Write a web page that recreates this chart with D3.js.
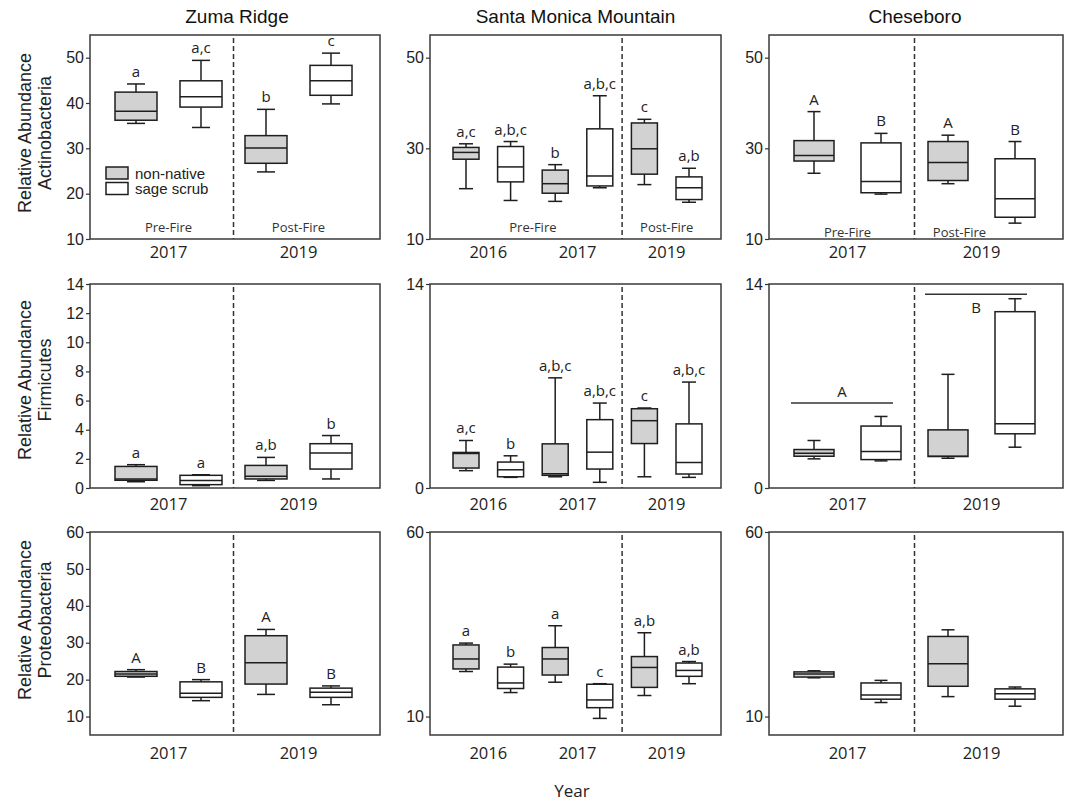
<!DOCTYPE html>
<html>
<head>
<meta charset="utf-8">
<script src="https://cdn.jsdelivr.net/npm/d3@7"></script>
<style>
  body { margin: 0; background: #fff; }
  svg { display: block; }
</style>
</head>
<body>
<svg id="chart" width="1068" height="801"></svg>
<script>
// categories
const sites = ["Zuma Ridge", "Santa Monica Mountain", "Cheseboro"];
const phyla = ["Actinobacteria", "Firmicutes", "Proteobacteria"];
const habitats = ["non-native", "sage scrub"];
const zumaYears = ["2017", "2019"];
const smYears = ["2016", "2017", "2019"];
const chesYears = ["2017", "2019"];
const postFireYears = ["2019"];

// box stats: [min, q1, median, q3, max], order = year x habitat
const zumaActino = [[35.5, 36.2, 38.2, 42.4, 44.2], [34.6, 39.1, 41.4, 44.9, 49.4], [24.8, 26.7, 30.1, 32.8, 38.6], [39.8, 41.7, 44.9, 48.3, 51.0]];
const smActino = [[21.1, 27.6, 29.1, 30.2, 31.0], [18.5, 22.6, 25.9, 30.4, 31.5], [18.3, 20.1, 22.2, 25.2, 26.4], [21.3, 21.7, 23.9, 34.3, 41.6], [22.0, 24.3, 29.9, 35.6, 36.4], [18.1, 18.7, 21.3, 23.7, 25.6]];
const chesActino = [[24.5, 27.2, 28.4, 31.7, 38.1], [19.9, 20.2, 22.7, 31.2, 33.3], [22.2, 22.9, 26.9, 31.5, 32.9], [13.5, 14.8, 18.9, 27.7, 31.5]];
const zumaFirm = [[0.43, 0.53, 0.62, 1.48, 1.6], [0.16, 0.23, 0.52, 0.87, 0.91], [0.52, 0.62, 0.8, 1.55, 2.1], [0.62, 1.3, 2.4, 3.04, 3.6]];
const smFirm = [[1.19, 1.37, 2.37, 2.44, 3.26], [0.73, 0.77, 1.25, 1.78, 2.21], [0.77, 0.87, 0.98, 3.03, 7.56], [0.39, 1.3, 2.46, 4.69, 5.83], [0.77, 3.05, 4.62, 5.44, 5.49], [0.73, 0.96, 1.75, 4.4, 7.27]];
const chesFirm = [[2.0, 2.18, 2.39, 2.64, 3.26], [1.86, 1.95, 2.5, 4.25, 4.91], [2.04, 2.16, 2.18, 3.99, 7.8], [2.8, 3.72, 4.41, 12.1, 12.99]];
const zumaProteo = [[20.7, 20.9, 21.5, 22.2, 22.7], [14.3, 15.2, 16.3, 19.4, 20.0], [16.0, 18.8, 24.6, 31.9, 33.6], [13.2, 15.2, 16.6, 17.7, 18.3]];
const smProteo = [[22.2, 22.9, 25.6, 29.4, 29.9], [16.5, 17.6, 19.1, 23.4, 24.2], [19.3, 21.25, 25.6, 28.7, 34.6], [9.5, 12.4, 14.5, 18.75, 18.9], [15.7, 17.9, 23.3, 26.25, 32.7], [18.9, 20.9, 22.5, 24.5, 24.9]];
const chesProteo = [[20.5, 20.7, 21.5, 22.1, 22.4], [13.8, 14.7, 15.85, 19.1, 19.8], [15.4, 18.2, 24.3, 31.7, 33.5], [12.8, 14.7, 16.2, 17.5, 18.0]];

// significance letters
const zumaActinoLetters = ["a", "a,c", "b", "c"];
const smActinoLetters = ["a,c", "a,b,c", "b", "a,b,c", "c", "a,b"];
const chesActinoLetters = ["A", "B", "A", "B"];
const zumaFirmLetters = ["a", "a", "a,b", "b"];
const smFirmLetters = ["a,c", "b", "a,b,c", "a,b,c", "c", "a,b,c"];
const zumaProteoLetters = ["A", "B", "A", "B"];
const smProteoLetters = ["a", "b", "a", "c", "a,b", "a,b"];
// Cheseboro Firmicutes: letters over whole years
const chesFirmGroupLabels = ["A", "B"];
const chesFirmGroupYears = ["2017", "2019"];
const chesFirmGroupLevels = [5.83, 13.3];

// tick labels
const actinoTicks = [10, 20, 30, 40, 50];
const actinoTicksShort = [10, 30, 50];
const firmTicks = [0, 2, 4, 6, 8, 10, 12, 14];
const firmTicksShort = [0, 14];
const proteoTicks = [10, 20, 30, 40, 50, 60];
const proteoTicksShort = [10, 60];

// layout
const cols = [
  { left: 90, right: 380, range: [136, 331], boxW: 42, capW: 18, fireDy: 7 },
  { left: 430, right: 721, range: [466, 689], boxW: 26, capW: 14, fireDy: 7 },
  { left: 769, right: 1063, range: [814, 1015], boxW: 40, capW: 13, fireDy: 2 }
];
const rows = [
  { top: 35, bottom: 239, domain: [10, 55], labelDy: 19, titleY: 133 },
  { top: 284, bottom: 488, domain: [0, 14], labelDy: 22, titleY: 380 },
  { top: 532, bottom: 735, domain: [5, 60], labelDy: 24, titleY: 620 }
];

const panels = [
  { row: 0, col: 0, years: zumaYears, stats: zumaActino, letters: zumaActinoLetters, ticks: actinoTicks },
  { row: 0, col: 1, years: smYears, stats: smActino, letters: smActinoLetters, ticks: actinoTicksShort },
  { row: 0, col: 2, years: chesYears, stats: chesActino, letters: chesActinoLetters, ticks: actinoTicksShort },
  { row: 1, col: 0, years: zumaYears, stats: zumaFirm, letters: zumaFirmLetters, ticks: firmTicks },
  { row: 1, col: 1, years: smYears, stats: smFirm, letters: smFirmLetters, ticks: firmTicksShort },
  { row: 1, col: 2, years: chesYears, stats: chesFirm, letters: null, ticks: firmTicksShort, groups: true },
  { row: 2, col: 0, years: zumaYears, stats: zumaProteo, letters: zumaProteoLetters, ticks: proteoTicks },
  { row: 2, col: 1, years: smYears, stats: smProteo, letters: smProteoLetters, ticks: proteoTicksShort },
  { row: 2, col: 2, years: chesYears, stats: chesProteo, letters: null, ticks: proteoTicksShort }
];

const fill = d3.scaleOrdinal(habitats, ["#d2d2d2", "#ffffff"]);
const ink = "#1e1e1e";
const arial = "Liberation Sans, Arial, sans-serif";
const calib = "Open Sans, Lato, sans-serif";

const svg = d3.select("#chart");

panels.forEach(p => {
  const R = rows[p.row], C = cols[p.col];
  const keys = p.years.flatMap(yr => habitats.map(h => yr + "|" + h));
  const x = d3.scalePoint().domain(keys).range(C.range);
  const y = d3.scaleLinear().domain(R.domain).range([R.bottom, R.top]);
  const g = svg.append("g");

  const data = keys.map((k, i) => ({
    year: k.split("|")[0], habitat: k.split("|")[1], key: k,
    s: p.stats[i], letter: p.letters ? p.letters[i] : null
  }));

  // frame
  g.append("rect")
    .attr("x", C.left).attr("y", R.top)
    .attr("width", C.right - C.left).attr("height", R.bottom - R.top)
    .attr("fill", "none").attr("stroke", "#3a3a3a").attr("stroke-width", 1.5);

  // y axis
  g.append("g")
    .attr("transform", `translate(${C.left},0)`)
    .call(d3.axisLeft(y).tickValues(p.ticks).tickSize(4).tickPadding(2).tickFormat(d3.format("d")))
    .call(a => a.select(".domain").remove())
    .call(a => a.selectAll("line").attr("stroke", "#333").attr("stroke-width", 1.2))
    .call(a => a.selectAll("text").attr("fill", "#222").style("font-size", "16px").style("font-family", arial));

  // pre/post fire divider
  const firstPost = keys.findIndex(k => postFireYears.includes(k.split("|")[0]));
  const xd = (x(keys[firstPost - 1]) + x(keys[firstPost])) / 2;
  g.append("line")
    .attr("x1", xd).attr("x2", xd)
    .attr("y1", R.top + 3).attr("y2", R.bottom)
    .attr("stroke", "#333").attr("stroke-width", 1.5).attr("stroke-dasharray", "5,3");

  const hw = C.boxW / 2, cw = C.capW / 2;
  const box = g.selectAll(".box").data(data).join("g").attr("class", "box");

  box.append("line")
    .attr("x1", d => x(d.key)).attr("x2", d => x(d.key))
    .attr("y1", d => y(d.s[0])).attr("y2", d => y(d.s[4]))
    .attr("stroke", ink).attr("stroke-width", 1.5);
  box.append("line")
    .attr("x1", d => x(d.key) - cw).attr("x2", d => x(d.key) + cw)
    .attr("y1", d => y(d.s[4])).attr("y2", d => y(d.s[4]))
    .attr("stroke", ink).attr("stroke-width", 1.5);
  box.append("line")
    .attr("x1", d => x(d.key) - cw).attr("x2", d => x(d.key) + cw)
    .attr("y1", d => y(d.s[0])).attr("y2", d => y(d.s[0]))
    .attr("stroke", ink).attr("stroke-width", 1.5);
  box.append("rect")
    .attr("x", d => x(d.key) - hw).attr("width", C.boxW)
    .attr("y", d => y(d.s[3])).attr("height", d => y(d.s[1]) - y(d.s[3]))
    .attr("fill", d => fill(d.habitat)).attr("stroke", ink).attr("stroke-width", 1.5);
  box.append("line")
    .attr("x1", d => x(d.key) - hw).attr("x2", d => x(d.key) + hw)
    .attr("y1", d => y(d.s[2])).attr("y2", d => y(d.s[2]))
    .attr("stroke", ink).attr("stroke-width", 1.5);

  // letters
  box.filter(d => d.letter)
    .append("text")
    .attr("x", d => x(d.key)).attr("y", d => y(d.s[4]) - 7)
    .attr("text-anchor", "middle")
    .style("font-family", calib).style("font-size", "15px").attr("fill", "#222")
    .text(d => d.letter);

  // year labels
  const yearX = yr => d3.mean(habitats, h => x(yr + "|" + h));
  g.selectAll(".yr").data(p.years).join("text")
    .attr("x", yearX).attr("y", R.bottom + R.labelDy)
    .attr("text-anchor", "middle")
    .style("font-family", calib).style("font-size", "16.5px").attr("fill", "#222")
    .text(d => d);

  // Pre-Fire / Post-Fire in top row
  if (p.row === 0) {
    const preYears = p.years.filter(yr => !postFireYears.includes(yr));
    const preX = d3.mean(preYears.flatMap(yr => habitats.map(h => x(yr + "|" + h))));
    const postX = d3.mean(postFireYears.flatMap(yr => habitats.map(h => x(yr + "|" + h))));
    const shift = p.col === 2 ? -22 : 0;
    g.append("text").attr("x", preX).attr("y", R.bottom - C.fireDy)
      .attr("text-anchor", "middle").style("font-family", calib).style("font-size", "13px")
      .attr("fill", "#333").text("Pre-Fire");
    g.append("text").attr("x", postX + shift).attr("y", R.bottom - C.fireDy)
      .attr("text-anchor", "middle").style("font-family", calib).style("font-size", "13px")
      .attr("fill", "#333").text("Post-Fire");
  }

  // group letters over whole years
  if (p.groups) {
    chesFirmGroupYears.forEach((yr, i) => {
      const x0 = x(yr + "|" + habitats[0]) - hw - 3;
      const x1 = x(yr + "|" + habitats[1]) + hw - 8;
      const ly = y(chesFirmGroupLevels[i]);
      g.append("line").attr("x1", x0).attr("x2", x1).attr("y1", ly).attr("y2", ly)
        .attr("stroke", "#333").attr("stroke-width", 1.5);
      const below = i === 1;
      g.append("text").attr("x", (x0 + x1) / 2).attr("y", below ? ly + 19 : ly - 6)
        .attr("text-anchor", "middle").style("font-family", calib).style("font-size", "15px")
        .attr("fill", "#222").text(chesFirmGroupLabels[i]);
    });
  }

  // legend in first panel
  if (p.row === 0 && p.col === 0) {
    const lg = g.append("g").attr("transform", "translate(106,167)");
    habitats.forEach((h, i) => {
      lg.append("rect").attr("x", 0).attr("y", i * 15.5).attr("width", 22).attr("height", 12)
        .attr("fill", fill(h)).attr("stroke", ink).attr("stroke-width", 1.5);
      lg.append("text").attr("x", 29).attr("y", i * 15.5 + 11.5)
        .style("font-family", arial).style("font-size", "15px").attr("fill", "#222").text(h);
    });
  }
});

// site titles
svg.selectAll(".site").data(sites).join("text")
  .attr("x", (d, i) => (cols[i].left + cols[i].right) / 2 - [-2, 0, 1][i])
  .attr("y", 23)
  .attr("text-anchor", "middle")
  .style("font-family", arial).style("font-size", "19px").attr("fill", "#111")
  .text(d => d);

// row titles
rows.forEach((R, i) => {
  const t = svg.append("text")
    .attr("transform", `translate(0,${R.titleY}) rotate(-90)`)
    .attr("text-anchor", "middle")
    .style("font-family", arial).style("font-size", "18px").attr("fill", "#222");
  t.append("tspan").attr("x", 0).attr("y", 31).text("Relative Abundance");
  t.append("tspan").attr("x", 0).attr("y", 51).text(phyla[i]);
});

// x title
svg.append("text").attr("x", 572).attr("y", 797)
  .attr("text-anchor", "middle")
  .style("font-family", calib).style("font-size", "17px").attr("fill", "#222")
  .text("Year");
</script>
</body>
</html>
